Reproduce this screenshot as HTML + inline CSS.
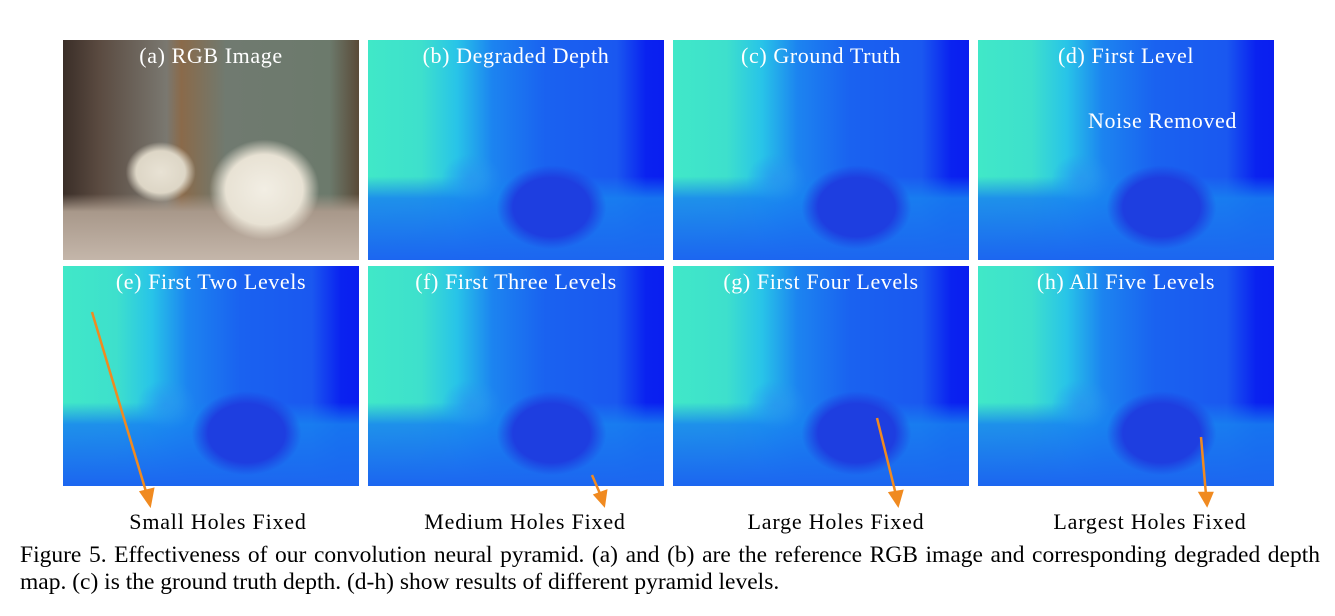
<!DOCTYPE html>
<html><head><style>
body{margin:0;width:1335px;height:616px;background:#fff;position:relative;overflow:hidden;font-family:"Liberation Serif",serif}
.p{position:absolute;width:296px;height:220px;overflow:hidden}
.d{background:
 radial-gradient(ellipse 55px 42px at 62% 76%,#1e3ee0 0%,#1e3ee0 70%,rgba(30,62,224,0) 100%),
 radial-gradient(ellipse 30px 25px at 35% 63%,rgba(40,150,240,.8) 0%,rgba(40,150,240,0) 100%),
 linear-gradient(to bottom,rgba(30,120,240,0) 62%,rgba(24,130,240,.85) 72%,#1c66f0 100%),
 linear-gradient(to right,#40e8c8 0%,#3ee0cc 18%,#28c4e8 30%,#1c84f0 42%,#1a62f0 60%,#1a58f0 84%,#0a22f0 94%,#0a1ef0 100%)}
.l{position:absolute;top:3px;left:-20px;right:-20px;text-align:center;color:#fff;font-size:22px;letter-spacing:0.6px}
.t{position:absolute;font-size:22px;color:#000;top:509px;text-align:center;width:320px;letter-spacing:0.8px}
.rgb{background:
 radial-gradient(ellipse 55px 50px at 68% 68%,#f2eee4 0%,#e8e2d4 70%,rgba(230,225,210,0) 100%),
 radial-gradient(ellipse 35px 30px at 33% 60%,#e8e2d4 0%,#ddd6c6 70%,rgba(220,214,200,0) 100%),
 linear-gradient(to bottom,rgba(0,0,0,0) 70%,#a8988a 78%,#c4b6aa 100%),
 linear-gradient(to right,#3a2e28 0%,#5a4a40 12%,#7a7870 35%,#8a6a4a 40%,#707a70 55%,#6c7a6c 90%,#5a4a38 100%)}
.cap{position:absolute;left:20px;width:1300px;font-size:23.5px;line-height:27px;top:542px}
.j{text-align:justify;text-align-last:justify;white-space:nowrap}
</style></head><body>
<div class="p rgb" style="left:63px;top:40px"><div class="l">(a) RGB Image</div></div>
<div class="p d" style="left:368px;top:40px"><div class="l">(b) Degraded Depth</div></div>
<div class="p d" style="left:673px;top:40px"><div class="l">(c) Ground Truth</div></div>
<div class="p d" style="left:978px;top:40px"><div class="l">(d) First Level</div><div style="position:absolute;left:110px;top:68px;color:#fff;font-size:22px;letter-spacing:0.6px">Noise Removed</div></div>
<div class="p d" style="left:63px;top:266px"><div class="l">(e) First Two Levels</div></div>
<div class="p d" style="left:368px;top:266px"><div class="l">(f) First Three Levels</div></div>
<div class="p d" style="left:673px;top:266px"><div class="l">(g) First Four Levels</div></div>
<div class="p d" style="left:978px;top:266px"><div class="l">(h) All Five Levels</div></div>
<svg style="position:absolute;left:0;top:0" width="1335" height="616">
<g stroke="#f08a20" stroke-width="2.5" fill="#f08a20">
<line x1="92" y1="312" x2="147" y2="495"/><polygon points="150,505 141,492 153,489"/>
<line x1="592" y1="475" x2="601" y2="496"/><polygon points="604,505 595,495 606,491"/>
<line x1="877" y1="418" x2="896" y2="495"/><polygon points="898,505 890,493 902,491"/>
<line x1="1201" y1="437" x2="1206" y2="495"/><polygon points="1207,505 1200,493 1212,493"/>
</g></svg>
<div class="t" style="left:58px">Small Holes Fixed</div>
<div class="t" style="left:365px">Medium Holes Fixed</div>
<div class="t" style="left:676px">Large Holes Fixed</div>
<div class="t" style="left:990px">Largest Holes Fixed</div>
<div class="cap"><div class="j">Figure 5. Effectiveness of our convolution neural pyramid. (a) and (b) are the reference RGB image and corresponding degraded depth</div><div>map. (c) is the ground truth depth. (d-h) show results of different pyramid levels.</div></div>
</body></html>
